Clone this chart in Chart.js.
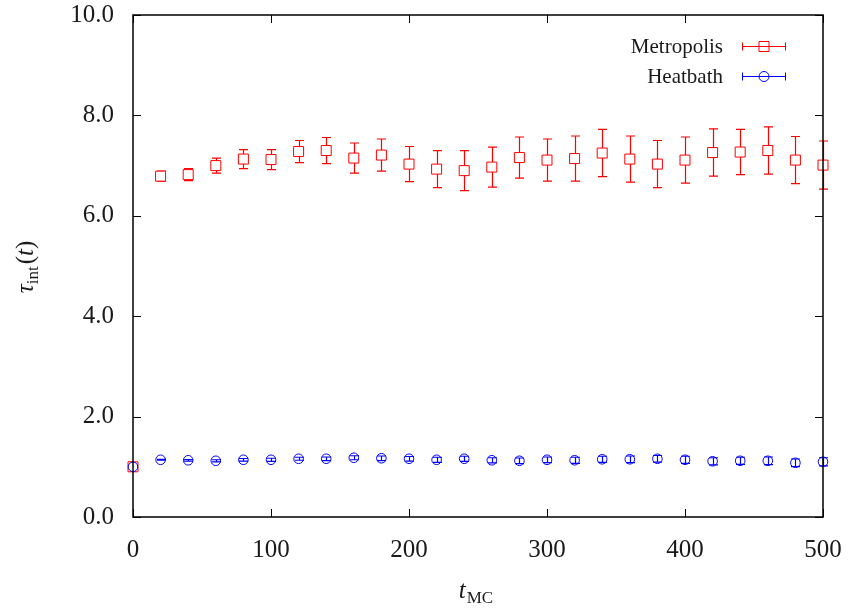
<!DOCTYPE html>
<html>
<head>
<meta charset="utf-8">
<script src="https://cdn.jsdelivr.net/npm/chart.js@4.4.1/dist/chart.umd.min.js"></script>
<style>
html,body{margin:0;padding:0;background:#fff;}
#wrap{width:849px;height:609px;position:relative;}
</style>
</head>
<body>
<div id="wrap"><canvas id="c" width="849" height="609"></canvas></div>
<script>
// ---- data ----
const tMC = [0,20,40,60,80,100,120,140,160,180,200,220,240,260,280,300,320,340,360,380,400,420,440,460,480,500];
const metropolis = [1.00,6.79,6.82,7.00,7.13,7.12,7.28,7.30,7.15,7.21,7.03,6.93,6.90,6.97,7.16,7.11,7.14,7.25,7.13,7.03,7.11,7.26,7.27,7.30,7.11,7.01];
const metropolisErr = [0.00,0.10,0.12,0.15,0.19,0.20,0.22,0.26,0.30,0.32,0.35,0.37,0.40,0.40,0.41,0.42,0.45,0.47,0.46,0.47,0.46,0.47,0.45,0.47,0.47,0.48];
const heatbath = [1.00,1.14,1.13,1.12,1.14,1.14,1.16,1.16,1.18,1.17,1.16,1.14,1.16,1.13,1.12,1.14,1.13,1.15,1.15,1.16,1.14,1.11,1.12,1.12,1.08,1.10];
const heatbathErr = [0.00,0.01,0.015,0.02,0.025,0.03,0.03,0.035,0.04,0.045,0.045,0.05,0.05,0.05,0.055,0.055,0.06,0.06,0.065,0.065,0.07,0.07,0.07,0.075,0.075,0.08];
const xTicks = [0,100,200,300,400,500];
const yTicks = [0,2,4,6,8,10];
const seriesNames = ['Metropolis','Heatbath'];
const seriesColors = ['#ff0000','#0000ff'];

const SERIF = '"Liberation Serif","DejaVu Serif",serif';
const TXT = '#1a1a1a';

const errorBars = {
  id: 'errorBars',
  beforeDatasetsDraw(chart) {
    const ctx = chart.ctx, xs = chart.scales.x, ys = chart.scales.y;
    chart.data.datasets.forEach((ds, k) => {
      const errs = ds.errors;
      ctx.save();
      ctx.strokeStyle = seriesColors[k];
      ctx.lineWidth = 1.2;
      ds.data.forEach((p, i) => {
        const x = Math.round(xs.getPixelForValue(p.x)) + 0.5;
        const y1 = ys.getPixelForValue(p.y + errs[i]);
        const y2 = ys.getPixelForValue(p.y - errs[i]);
        ctx.beginPath();
        ctx.moveTo(x, y1); ctx.lineTo(x, y2);
        ctx.moveTo(x - 4.5, y1); ctx.lineTo(x + 4.5, y1);
        ctx.moveTo(x - 4.5, y2); ctx.lineTo(x + 4.5, y2);
        ctx.stroke();
      });
      ctx.restore();
    });
  }
};

const frame = {
  id: 'frame',
  afterDraw(chart) {
    const ctx = chart.ctx, a = chart.chartArea, xs = chart.scales.x, ys = chart.scales.y;
    ctx.save();
    ctx.strokeStyle = '#000';
    ctx.lineWidth = 1.5;
    ctx.beginPath();
    ctx.rect(a.left, a.top, a.right - a.left, a.bottom - a.top);
    ctx.stroke();
    ctx.lineWidth = 1;
    ctx.beginPath();
    const L = 8;
    xTicks.forEach(v => {
      const x = Math.round(xs.getPixelForValue(v)) + 0.5;
      ctx.moveTo(x, a.bottom); ctx.lineTo(x, a.bottom - L);
      ctx.moveTo(x, a.top); ctx.lineTo(x, a.top + L);
    });
    yTicks.forEach(v => {
      const y = Math.round(ys.getPixelForValue(v)) + 0.5;
      ctx.moveTo(a.left, y); ctx.lineTo(a.left + L, y);
      ctx.moveTo(a.right, y); ctx.lineTo(a.right - L, y);
    });
    ctx.stroke();

    // axis titles
    ctx.fillStyle = TXT;
    ctx.textBaseline = 'alphabetic';
    // x title: t_MC
    {
      const main = 'italic 25px ' + SERIF, sub = '17px ' + SERIF;
      ctx.font = main; const w1 = ctx.measureText('t').width;
      ctx.font = sub; const w2 = ctx.measureText('MC').width;
      const total = w1 + 1 + w2;
      let x = 476 - total / 2, y = 598;
      ctx.font = main; ctx.textAlign = 'left'; ctx.fillText('t', x, y);
      ctx.font = sub; ctx.fillText('MC', x + w1 + 1, y + 5);
    }
    // y title: tau_int(t)
    {
      ctx.save();
      ctx.translate(33, 267);
      ctx.rotate(-Math.PI / 2);
      const main = 'italic 25px ' + SERIF, sub = '17px ' + SERIF, up = '25px ' + SERIF;
      const parts = [['τ', main, 0], ['int', sub, 5], ['(', up, 0], ['t', main, 0], [')', up, 0]];
      let total = 0;
      parts.forEach(p => { ctx.font = p[1]; p.push(ctx.measureText(p[0]).width); total += p[3]; });
      total += 2;
      let x = -total / 2;
      ctx.textAlign = 'left';
      parts.forEach((p, i) => {
        ctx.font = p[1];
        ctx.fillText(p[0], x, p[2]);
        x += p[3] + (i === 1 ? 2 : 0);
      });
      ctx.restore();
    }

    // legend
    const leg = [
      {name: seriesNames[0], color: seriesColors[0], style: 'rect', y: 46.5},
      {name: seriesNames[1], color: seriesColors[1], style: 'circle', y: 76.5}
    ];
    ctx.font = '21px ' + SERIF;
    ctx.textAlign = 'right';
    ctx.textBaseline = 'middle';
    leg.forEach(l => {
      ctx.fillStyle = TXT;
      ctx.fillText(l.name, 723, l.y + 1);
      ctx.strokeStyle = l.color;
      ctx.lineWidth = 1;
      ctx.beginPath();
      ctx.moveTo(742, l.y); ctx.lineTo(786, l.y);
      ctx.moveTo(742.5, l.y - 4); ctx.lineTo(742.5, l.y + 4);
      ctx.moveTo(785.5, l.y - 4); ctx.lineTo(785.5, l.y + 4);
      ctx.stroke();
      ctx.beginPath();
      if (l.style === 'rect') ctx.rect(759, l.y - 5, 10, 10);
      else ctx.arc(764, l.y, 5, 0, Math.PI * 2);
      ctx.stroke();
    });
    ctx.restore();
  }
};

const metroPts = tMC.map((t, i) => ({x: t, y: metropolis[i]}));
const heatPts = tMC.map((t, i) => ({x: t, y: heatbath[i]}));

new Chart(document.getElementById('c'), {
  type: 'scatter',
  data: {
    datasets: [
      {label: seriesNames[0], data: metroPts, errors: metropolisErr, borderColor: seriesColors[0],
       pointBorderColor: seriesColors[0],
       backgroundColor: '#ffffff', pointBackgroundColor: '#ffffff', pointStyle: 'rect', pointRadius: 7.07, pointBorderWidth: 1,
       pointHoverRadius: 7.07, order: 1, clip: false},
      {label: seriesNames[1], data: heatPts, errors: heatbathErr, borderColor: seriesColors[1],
       pointBorderColor: seriesColors[1],
       backgroundColor: 'rgba(0,0,0,0)', pointBackgroundColor: 'rgba(0,0,0,0)', pointStyle: 'circle', pointRadius: 4.8, pointBorderWidth: 1,
       pointHoverRadius: 4.8, order: 0, clip: false}
    ]
  },
  options: {
    responsive: false,
    animation: false,
    events: [],
    layout: {autoPadding: false, padding: {left: 0, right: 26, top: 15, bottom: 0}},
    plugins: {legend: {display: false}, tooltip: {enabled: false}},
    scales: {
      x: {
        type: 'linear', min: 0, max: 500,
        afterBuildTicks: s => { s.ticks = xTicks.map(v => ({value: v})); },
        afterFit: s => { s.height = 92; s.paddingLeft = 0; s.paddingRight = 0; s.paddingTop = 0; s.paddingBottom = 0; },
        grid: {display: false, drawTicks: false}, border: {display: false},
        ticks: {padding: 18, color: TXT, font: {family: SERIF, size: 25}, callback: v => String(v)}
      },
      y: {
        type: 'linear', min: 0, max: 10,
        afterBuildTicks: s => { s.ticks = yTicks.map(v => ({value: v})); },
        afterFit: s => { s.width = 133; s.paddingLeft = 0; s.paddingRight = 0; s.paddingTop = 0; s.paddingBottom = 0; },
        grid: {display: false, drawTicks: false}, border: {display: false},
        ticks: {padding: 19, color: TXT, font: {family: SERIF, size: 25}, callback: v => Number(v).toFixed(1)}
      }
    }
  },
  plugins: [errorBars, frame]
});
</script>
</body>
</html>
